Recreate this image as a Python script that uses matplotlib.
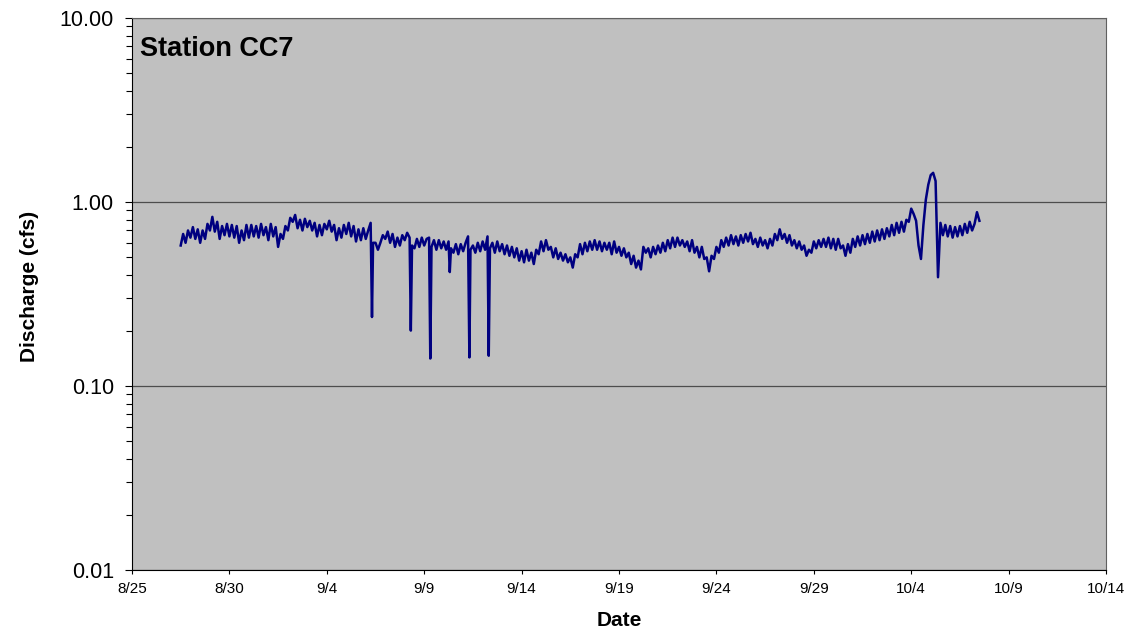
import numpy as np
import matplotlib
matplotlib.use("Agg")
import matplotlib.pyplot as plt
import matplotlib.dates as mdates
from matplotlib.ticker import LogLocator, FormatStrFormatter, NullFormatter

# Datos (caudal en cfs, una lectura cada 3 horas)
inicio = np.datetime64("2007-08-27T12:00")
paso = np.timedelta64(3, "h")
caudal = [
    0.58, 0.67, 0.60, 0.70, 0.64, 0.73, 0.63, 0.71,   # 8/27 12h
    0.60, 0.70, 0.63, 0.76, 0.70, 0.83, 0.69, 0.78,   # 8/28 12h
    0.63, 0.74, 0.66, 0.76, 0.65, 0.75, 0.64, 0.74,   # 8/29
    0.60, 0.70, 0.62, 0.75, 0.64, 0.75, 0.65, 0.74,   # 8/30
    0.64, 0.76, 0.66, 0.73, 0.62, 0.76, 0.65, 0.73,   # 8/31
    0.57, 0.67, 0.63, 0.74, 0.70, 0.82, 0.78, 0.85,   # 9/1
    0.72, 0.80, 0.70, 0.81, 0.73, 0.79, 0.70, 0.77,   # 9/2
    0.65, 0.75, 0.66, 0.76, 0.71, 0.79, 0.69, 0.75,   # 9/3
    0.62, 0.72, 0.64, 0.75, 0.67, 0.77, 0.65, 0.74,   # 9/4
    0.61, 0.71, 0.62, 0.72, 0.63, 0.70, 0.77, 0.60,   # 9/5
    0.60, 0.55, 0.60, 0.66, 0.63, 0.69, 0.60, 0.67,   # 9/6
    0.57, 0.64, 0.58, 0.66, 0.62, 0.68, 0.64, 0.58,   # 9/7
    0.56, 0.63, 0.57, 0.64, 0.58, 0.63, 0.64, 0.57,   # 9/8
    0.62, 0.55, 0.62, 0.56, 0.61, 0.55, 0.61, 0.56,   # 9/9
    0.53, 0.59, 0.52, 0.59, 0.54, 0.60, 0.65, 0.55,   # 9/10
    0.58, 0.53, 0.60, 0.54, 0.61, 0.55, 0.65, 0.56,   # 9/11
    0.60, 0.53, 0.61, 0.54, 0.59, 0.52, 0.58, 0.51,   # 9/12
    0.57, 0.50, 0.56, 0.48, 0.54, 0.47, 0.55, 0.48,   # 9/13
    0.53, 0.46, 0.55, 0.52, 0.61, 0.54, 0.62, 0.55,   # 9/14
    0.57, 0.50, 0.56, 0.49, 0.53, 0.48, 0.52, 0.47,   # 9/15
    0.50, 0.44, 0.52, 0.50, 0.59, 0.52, 0.60, 0.54,   # 9/16
    0.61, 0.55, 0.62, 0.55, 0.61, 0.54, 0.60, 0.55,   # 9/17
    0.60, 0.52, 0.61, 0.53, 0.57, 0.51, 0.56, 0.50,   # 9/18
    0.53, 0.46, 0.51, 0.44, 0.48, 0.43, 0.57, 0.53,   # 9/19
    0.56, 0.50, 0.57, 0.52, 0.58, 0.53, 0.60, 0.54,   # 9/20
    0.62, 0.56, 0.64, 0.57, 0.64, 0.58, 0.62, 0.57,   # 9/21
    0.61, 0.54, 0.62, 0.53, 0.57, 0.50, 0.57, 0.49,   # 9/22
    0.50, 0.42, 0.51, 0.49, 0.57, 0.53, 0.62, 0.57,   # 9/23
    0.64, 0.58, 0.66, 0.59, 0.65, 0.58, 0.66, 0.60,   # 9/24
    0.67, 0.61, 0.68, 0.59, 0.63, 0.57, 0.64, 0.58,   # 9/25
    0.62, 0.56, 0.63, 0.58, 0.67, 0.62, 0.71, 0.63,   # 9/26
    0.67, 0.60, 0.66, 0.58, 0.62, 0.56, 0.61, 0.55,   # 9/27
    0.58, 0.51, 0.55, 0.53, 0.61, 0.56, 0.62, 0.57,   # 9/28
    0.63, 0.57, 0.64, 0.56, 0.63, 0.55, 0.63, 0.56,   # 9/29
    0.58, 0.51, 0.59, 0.53, 0.63, 0.57, 0.65, 0.58,   # 9/30
    0.66, 0.59, 0.67, 0.60, 0.69, 0.61, 0.70, 0.62,   # 10/1
    0.71, 0.63, 0.72, 0.65, 0.75, 0.66, 0.77, 0.68,   # 10/2
    0.78, 0.69, 0.80, 0.78, 0.92, 0.86, 0.79, 0.58,   # 10/3
    0.49, 0.75, 1.03, 1.24, 1.40, 1.44, 1.30, 0.39,   # 10/4
    0.77, 0.66, 0.75, 0.65, 0.74, 0.64, 0.73, 0.65,   # 10/5
    0.74, 0.66, 0.76, 0.68, 0.78, 0.70, 0.76, 0.88,   # 10/6
    0.79,                                             # 10/7 12h
]

# Caidas puntuales (lecturas aisladas)
caidas_fecha = ["2007-09-06T07:40", "2007-09-08T07:30", "2007-09-09T07:30",
                "2007-09-10T07:30", "2007-09-11T07:40", "2007-09-12T07:30"]
caidas_valor = [0.237, 0.20, 0.141, 0.416, 0.143, 0.146]

fechas = inicio + np.arange(len(caudal)) * paso
fechas = np.concatenate([fechas, np.array(caidas_fecha, dtype="datetime64[m]")])
valores = np.concatenate([caudal, caidas_valor])
orden = np.argsort(fechas)
fechas = fechas[orden].astype("datetime64[m]").astype(object)
valores = valores[orden]

plt.rcParams["font.family"] = ["Liberation Sans", "DejaVu Sans"]

fig = plt.figure(figsize=(11.33, 6.35), dpi=100)
ax = fig.add_axes([0.1165, 0.1024, 0.8597, 0.8693])
ax.set_facecolor("#C0C0C0")

ax.plot(fechas, valores, color="#000080", linewidth=1.8)

ax.set_yscale("log")
ax.set_ylim(0.01, 10)
ax.yaxis.set_major_locator(LogLocator(base=10))
ax.yaxis.set_major_formatter(FormatStrFormatter("%.2f"))
ax.yaxis.set_minor_locator(LogLocator(base=10, subs=np.arange(2, 10)))
ax.yaxis.set_minor_formatter(NullFormatter())
ax.grid(True, which="major", axis="y", color="#4d4d4d", linewidth=0.9)

ticks = np.datetime64("2007-08-25") + np.arange(0, 51, 5) * np.timedelta64(1, "D")
ax.set_xticks([t.astype(object) for t in ticks])
ax.set_xlim(ticks[0].astype(object), ticks[-1].astype(object))
ax.xaxis.set_major_formatter(mdates.DateFormatter("%-m/%-d"))

ax.tick_params(axis="x", which="major", direction="out", length=3, width=0.8, labelsize=11, pad=6)
ax.tick_params(axis="y", which="major", direction="out", length=5, width=0.8, labelsize=15.5, pad=8)
ax.tick_params(axis="y", which="minor", direction="out", length=4, width=0.8)

for lado in ["top", "right"]:
    ax.spines[lado].set_color("#606060")
ax.spines["left"].set_color("black")
ax.spines["bottom"].set_color("black")

ax.set_xlabel("Date", fontsize=15, fontweight="bold")
ax.xaxis.set_label_coords(0.5, -0.074)
ax.set_ylabel("Discharge (cfs)", fontsize=15, fontweight="bold")
ax.yaxis.set_label_coords(-0.095, 0.513)

ax.text(0.008, 0.968, "Station CC7", transform=ax.transAxes, fontsize=19.5,
        fontweight="bold", ha="left", va="top")

fig.savefig("out.png", dpi=100)
